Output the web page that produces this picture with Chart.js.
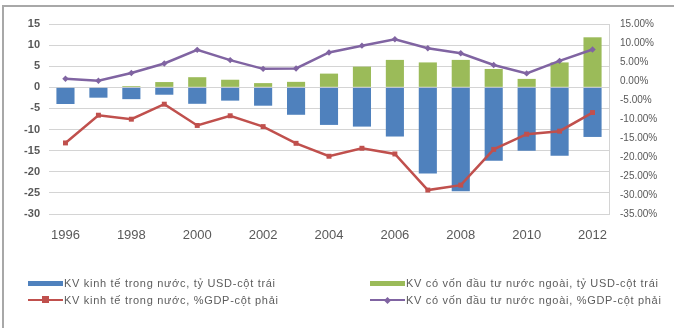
<!DOCTYPE html>
<html>
<head>
<meta charset="utf-8">
<script src="https://cdn.jsdelivr.net/npm/chart.js@4.4.1/dist/chart.umd.min.js"></script>
<style>
  html, body { margin: 0; padding: 0; background: #fff; }
  #wrap { position: relative; width: 674px; height: 328px; overflow: hidden; font-family: "Liberation Sans", Arial, sans-serif; }
  #frame { position: absolute; left: 2px; top: 5px; width: 700px; height: 400px; border-left: 2px solid #a8a8a8; border-top: 2px solid #a8a8a8; box-sizing: border-box; }
  #c { position: absolute; left: 0; top: 0; }
  .lg { position: absolute; display: flex; align-items: center; height: 12px; font-size: 11px; letter-spacing: 0.7px; color: #5c5c5c; white-space: nowrap; }
  .sw { width: 35px; height: 5px; margin-right: 1px; }
  .ln { position: relative; width: 35px; height: 2.5px; margin-right: 1px; }
  .mk { position: absolute; left: 14px; top: -2.5px; width: 7px; height: 7px; }
  .mk.dia { width: 5px; height: 5px; left: 15px; top: -1.25px; transform: rotate(45deg); }
</style>
</head>
<body>
<div id="wrap">
  <div id="frame"></div>
  <canvas id="c" width="674" height="328"></canvas>
  <div id="legend"></div>
</div>
<script>
// Years on the category axis
const years = ['1996','1997','1998','1999','2000','2001','2002','2003','2004','2005','2006','2007','2008','2009','2010','2011','2012'];

// Domestic sector balance, billion USD (left axis)
const domesticUSD = [-3.95, -2.45, -2.8, -1.75, -3.9, -3.15, -4.35, -6.5, -8.9, -9.3, -11.65, -20.4, -24.6, -17.4, -15.0, -16.2, -11.75];
// Foreign-invested sector balance, billion USD (left axis)
const fdiUSD = [0, 0, 0.3, 1.25, 2.4, 1.8, 1.0, 1.3, 3.25, 4.9, 6.5, 5.9, 6.5, 4.35, 2.0, 5.9, 11.85];
// Domestic sector balance, % of GDP (right axis)
const domesticGDP = [-16.3, -9.0, -10.05, -6.1, -11.7, -9.15, -12.0, -16.4, -19.8, -17.7, -19.2, -28.7, -27.4, -18.0, -14.0, -13.2, -8.3];
// Foreign-invested sector balance, % of GDP (right axis)
const fdiGDP = [0.6, 0.05, 2.1, 4.6, 8.2, 5.5, 3.2, 3.3, 7.5, 9.3, 11.0, 8.6, 7.3, 4.2, 2.0, 5.3, 8.3];

// Series names
const seriesNames = [
  'KV kinh tế trong nước, tỷ USD-cột trái',
  'KV có vốn đầu tư nước ngoài, tỷ USD-cột trái',
  'KV kinh tế trong nước, %GDP-cột phải',
  'KV có vốn đầu tư nước ngoài, %GDP-cột phải'
];

// Axis ranges and steps
const leftMin = -30, leftMax = 15, leftStep = 5;
const rightMin = -35, rightMax = 15, rightStep = 5;

const COLORS = { blue: '#4F81BD', green: '#9BBB59', red: '#C0504D', purple: '#8064A2' };
const tickFont = { family: '"Liberation Sans", Arial, sans-serif', size: 11 };
const tickColor = '#595959';
const gridColor = '#d4d4d4';

const chart = new Chart(document.getElementById('c'), {
  type: 'bar',
  data: {
    labels: years,
    datasets: [
      { type: 'line', label: seriesNames[2], data: domesticGDP, yAxisID: 'y1',
        borderColor: COLORS.red, backgroundColor: COLORS.red, borderWidth: 2.5,
        pointStyle: 'rect', pointRadius: 3.5, pointBorderWidth: 0, tension: 0, order: 1 },
      { type: 'line', label: seriesNames[3], data: fdiGDP, yAxisID: 'y1',
        borderColor: COLORS.purple, backgroundColor: COLORS.purple, borderWidth: 2.5,
        pointStyle: 'rectRot', pointRadius: 3.2, pointBorderWidth: 0, tension: 0, order: 1 },
      { label: seriesNames[0], data: domesticUSD, yAxisID: 'y', stack: 's',
        backgroundColor: COLORS.blue, order: 2 },
      { label: seriesNames[1], data: fdiUSD, yAxisID: 'y', stack: 's',
        backgroundColor: COLORS.green, order: 2 }
    ]
  },
  options: {
    responsive: false,
    animation: false,
    layout: { padding: { left: 0, right: 0, top: 24, bottom: 74 } },
    datasets: { bar: { categoryPercentage: 1, barPercentage: 0.55 } },
    plugins: { legend: { display: false }, tooltip: { enabled: false } },
    scales: {
      x: {
        stacked: true,
        grid: { display: false, drawTicks: false },
        border: { display: false },
        ticks: {
          autoSkip: false, maxRotation: 0, minRotation: 0, padding: 14,
          font: { ...tickFont, size: 13 }, color: tickColor,
          callback: (v, i) => (i % 2 === 0 ? years[i] : '')
        },
        afterFit: s => { s.height = 40; }
      },
      y: {
        stacked: true,
        min: leftMin, max: leftMax,
        grid: { color: gridColor, lineWidth: 1, drawTicks: false },
        border: { display: false },
        ticks: { stepSize: leftStep, padding: 9, font: { ...tickFont, weight: 'bold' }, color: tickColor },
        afterFit: s => { s.width = 49; }
      },
      y1: {
        position: 'right',
        min: rightMin, max: rightMax,
        grid: { drawOnChartArea: false, drawTicks: false },
        border: { display: true, color: gridColor },
        ticks: { stepSize: rightStep, padding: 11, font: { ...tickFont, size: 10 }, color: tickColor,
          callback: v => v.toFixed(2) + '%' },
        afterFit: s => { s.width = 65; }
      }
    }
  }
});

// Two-column legend under the plot
const legendSlots = [
  { ds: 2, kind: 'bar', left: 28, top: 277 },
  { ds: 3, kind: 'bar', left: 370, top: 277 },
  { ds: 0, kind: 'line', marker: 'sq', left: 28, top: 294 },
  { ds: 1, kind: 'line', marker: 'dia', left: 370, top: 294 }
];
const legendBox = document.getElementById('legend');
legendSlots.forEach(slot => {
  const ds = chart.data.datasets[slot.ds];
  const item = document.createElement('div');
  item.className = 'lg';
  item.style.left = slot.left + 'px';
  item.style.top = slot.top + 'px';
  let sw;
  if (slot.kind === 'bar') {
    sw = document.createElement('div');
    sw.className = 'sw';
    sw.style.background = ds.backgroundColor;
  } else {
    sw = document.createElement('div');
    sw.className = 'ln';
    sw.style.background = ds.borderColor;
    const mk = document.createElement('div');
    mk.className = 'mk' + (slot.marker === 'dia' ? ' dia' : '');
    mk.style.background = ds.borderColor;
    sw.appendChild(mk);
  }
  const txt = document.createElement('span');
  txt.textContent = ds.label;
  item.appendChild(sw);
  item.appendChild(txt);
  legendBox.appendChild(item);
});
</script>
</body>
</html>
